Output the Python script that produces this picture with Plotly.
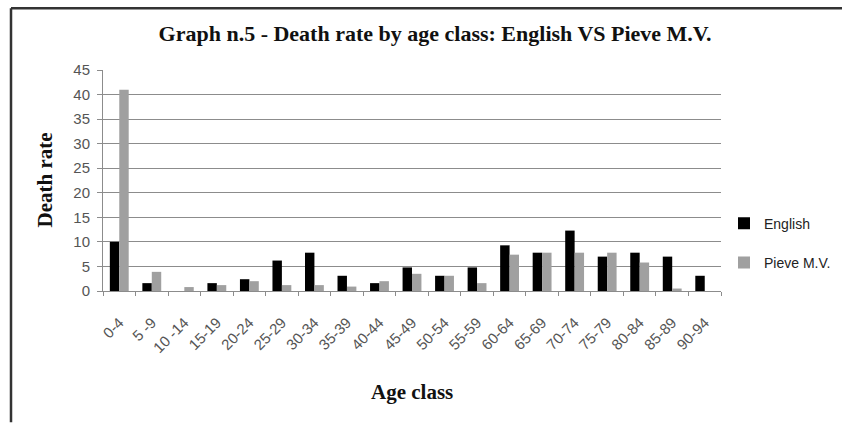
import plotly.graph_objects as go

# Age classes and death rates per class
age_classes = ["0-4", "5 -9", "10 -14", "15-19", "20-24", "25-29", "30-34", "35-39",
               "40-44", "45-49", "50-54", "55-59", "60-64", "65-69", "70-74", "75-79",
               "80-84", "85-89", "90-94"]
english = [10.0, 1.6, 0.0, 1.6, 2.4, 6.2, 7.8, 3.1, 1.6, 4.8, 3.1, 4.8, 9.3, 7.8,
           12.3, 7.0, 7.8, 7.0, 3.1]
pieve = [41.0, 3.9, 0.8, 1.2, 2.0, 1.2, 1.2, 0.9, 2.0, 3.5, 3.1, 1.6, 7.4, 7.8,
         7.8, 7.8, 5.8, 0.5, 0.0]
y_ticks = [0, 5, 10, 15, 20, 25, 30, 35, 40, 45]

W, H = 842, 423
L, R, T, B = 103, 721, 70, 291.5  # plot area in pixels


def px_x(p):
    return (p - L) / (R - L)


def px_y(p):
    return (B - p) / (B - T)


tick_font = dict(family="Liberation Sans, Arial, sans-serif", size=15, color="#555555")
serif_bold = dict(family="Liberation Serif, Times New Roman, serif", size=21, color="#111")
title_font = dict(family="Liberation Serif, Times New Roman, serif", size=22, color="#111")

fig = go.Figure()
fig.add_trace(go.Bar(x=age_classes, y=english, name="English", marker_color="#000000",
                     marker_line_width=0, legendgroup="a"))
fig.add_trace(go.Bar(x=age_classes, y=pieve, name="Pieve M.V.", marker_color="#a0a0a0",
                     marker_line_width=0, legendgroup="b"))

fig.update_layout(
    width=W, height=H,
    margin=dict(l=L, r=W - R, t=T, b=H - B, pad=0, autoexpand=False),
    paper_bgcolor="white", plot_bgcolor="white",
    barmode="group", bargap=0.42, bargroupgap=0,
    title=dict(text="<b>Graph n.5 - Death rate by age class: English VS Pieve M.V.</b>",
               x=435 / W, xanchor="center", y=1 - 33 / H, yanchor="middle",
               xref="container", yref="container", font=title_font),
    legend=dict(x=px_x(724), xanchor="left", y=px_y(208), yanchor="top",
                traceorder="grouped", tracegroupgap=18, itemwidth=30,
                font=dict(family="Liberation Sans, Arial, sans-serif", size=14, color="#222"),
                bgcolor="rgba(0,0,0,0)", borderwidth=0),
    showlegend=True,
)

fig.update_xaxes(
    type="category", showgrid=False, showline=True, linecolor="#8c8c8c", linewidth=1,
    ticks="outside", ticklen=4, tickcolor="#8c8c8c", tickson="boundaries",
    tickangle=-45, tickfont=tick_font, ticklabelstandoff=16, zeroline=False,
    automargin=False,
)
fig.update_yaxes(
    range=[0, 45], tickvals=y_ticks, showgrid=True, gridcolor="#8c8c8c", gridwidth=1,
    showline=True, linecolor="#8c8c8c", linewidth=1, ticks="outside", ticklen=5,
    tickcolor="#8c8c8c", tickfont=tick_font, zeroline=False, ticklabelstandoff=4,
    automargin=False,
)

# Axis titles
fig.add_annotation(text="<b>Death rate</b>", xref="paper", yref="paper",
                   x=px_x(44), y=0.5, textangle=-90, showarrow=False,
                   xanchor="center", yanchor="middle", font=serif_bold)
fig.add_annotation(text="<b>Age class</b>", xref="paper", yref="paper",
                   x=0.5, y=px_y(393), showarrow=False,
                   xanchor="center", yanchor="middle", font=serif_bold)

# Outer frame lines (top and left)
fig.add_shape(type="line", xref="paper", yref="paper",
              x0=px_x(11), x1=px_x(842), y0=px_y(8), y1=px_y(8),
              line=dict(color="#333", width=2.5))
fig.add_shape(type="line", xref="paper", yref="paper",
              x0=px_x(11), x1=px_x(11), y0=px_y(8), y1=px_y(423),
              line=dict(color="#333", width=2.5))

fig.write_html("out.html", config={"displayModeBar": False})
